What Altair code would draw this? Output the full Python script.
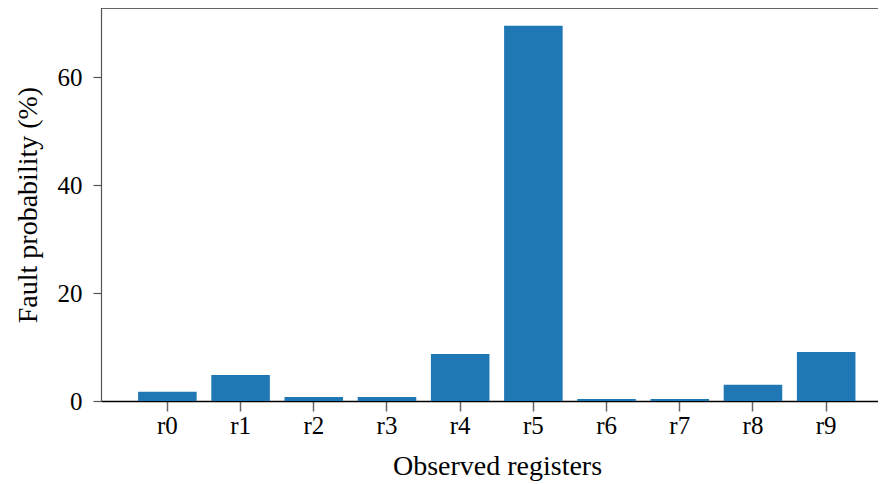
import altair as alt
import pandas as pd

registers = ["r0", "r1", "r2", "r3", "r4", "r5", "r6", "r7", "r8", "r9"]
fault_prob = [1.7, 4.8, 0.75, 0.75, 8.7, 69.5, 0.37, 0.37, 3.0, 9.1]
y_ticks = [0, 20, 40, 60]
y_max = 72.8

df = pd.DataFrame({"register": registers, "prob": fault_prob})

FONT = "Liberation Serif"
W, H = 777, 393

bars = alt.Chart(df).mark_bar(color="#1f77b4").encode(
    x=alt.X(
        "register:N",
        sort=registers,
        scale=alt.Scale(paddingInner=0.2, paddingOuter=0.4075, align=0.622),
        axis=alt.Axis(
            title="Observed registers",
            labelAngle=0,
            labelFont=FONT,
            labelFontSize=25,
            labelColor="black",
            labelBaseline="alphabetic",
            labelPadding=22,
            tickSize=10,
            tickColor="#666666",
            tickWidth=1.5,
            domainColor="black",
            domainWidth=1.5,
            titleFont=FONT,
            titleFontSize=28,
            titleFontWeight="normal",
            titleColor="black",
            titleBaseline="alphabetic",
            titleX=396,
            titleY=73,
            titleAnchor="middle",
        ),
    ),
    y=alt.Y(
        "prob:Q",
        scale=alt.Scale(domain=[0, y_max], nice=False, zero=True),
        axis=alt.Axis(
            title="Fault probability (%)",
            values=y_ticks,
            grid=False,
            labelFont=FONT,
            labelFontSize=25,
            labelColor="black",
            labelPadding=11,
            tickSize=8,
            tickColor="#555555",
            tickWidth=1.2,
            domainColor="#555555",
            domainWidth=1.2,
            titleFont=FONT,
            titleFontSize=28,
            titleFontWeight="normal",
            titleColor="black",
            titleBaseline="alphabetic",
            titleX=-65,
            titleY=H / 2,
            titleAngle=-90,
            titleAlign="center",
        ),
    ),
)

top_spine = alt.Chart(pd.DataFrame({"k": [0]})).mark_rule(
    color="#333333", strokeWidth=1.5
).encode(x=alt.value(0), x2=alt.value(W), y=alt.value(0))

chart = (
    alt.layer(bars, top_spine)
    .properties(
        width=W,
        height=H,
        autosize=alt.AutoSizeParams(type="none"),
        padding={"left": 93, "top": 0, "right": 0, "bottom": 80},
    )
    .configure_view(stroke=None)
)

chart.save("out.html", embed_options={"renderer": "svg", "actions": False})
